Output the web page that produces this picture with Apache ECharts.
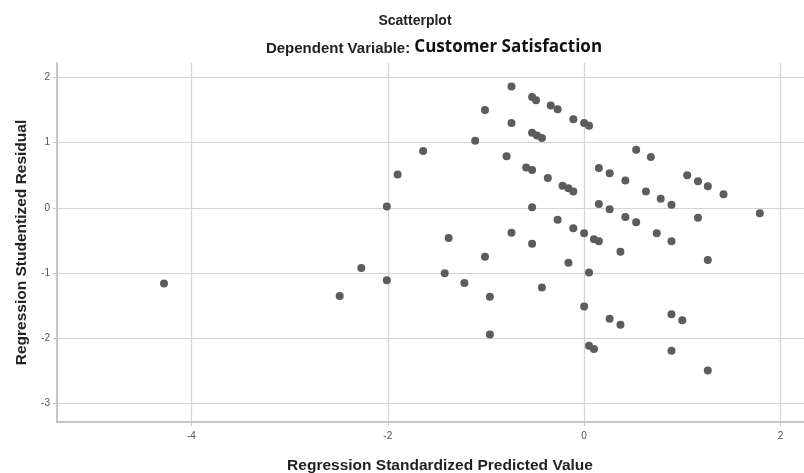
<!DOCTYPE html>
<html>
<head>
<meta charset="utf-8">
<script src="https://cdn.jsdelivr.net/npm/echarts@6/dist/echarts.min.js"></script>
<style>
html,body{margin:0;padding:0;background:#fff;}
#c{width:804px;height:473px;}
</style>
</head>
<body>
<div id="c"></div>
<script>
// Regression Standardized Predicted Value (x) and Regression Studentized Residual (y)
const predicted = [
  -4.28, -2.49, -2.27, -2.01, -2.01, -1.90, -1.64, -1.42, -1.38, -1.22,
  -1.11, -1.01, -1.01, -0.96, -0.96, -0.79, -0.74, -0.74, -0.74, -0.53,
  -0.49, -0.53, -0.48, -0.43, -0.59, -0.53, -0.53, -0.53, -0.43, -0.34,
  -0.27, -0.37, -0.22, -0.16, -0.11, -0.27, -0.11, -0.16, -0.11, 0.00,
  0.05, 0.00, 0.10, 0.15, 0.05, 0.00, 0.05, 0.10, 0.15, 0.26,
  0.42, 0.15, 0.26, 0.42, 0.53, 0.37, 0.26, 0.37, 0.53, 0.68,
  0.63, 0.78, 0.89, 0.74, 0.89, 0.89, 1.00, 0.89, 1.05, 1.16,
  1.26, 1.42, 1.16, 1.26, 1.26, 1.79
];
const residual = [
  -1.16, -1.35, -0.92, -1.11, 0.02, 0.51, 0.87, -1.00, -0.46, -1.15,
  1.03, 1.50, -0.75, -1.36, -1.94, 0.79, 1.86, 1.30, -0.38, 1.70,
  1.65, 1.15, 1.11, 1.07, 0.62, 0.58, 0.01, -0.55, -1.22, 1.57,
  1.51, 0.46, 0.34, 0.30, 0.25, -0.18, -0.31, -0.84, 1.36, 1.30,
  1.26, -0.39, -0.48, -0.51, -0.99, -1.51, -2.11, -2.16, 0.61, 0.53,
  0.42, 0.06, -0.02, -0.14, -0.22, -0.67, -1.70, -1.79, 0.89, 0.78,
  0.25, 0.14, 0.05, -0.39, -0.51, -1.63, -1.72, -2.19, 0.50, 0.41,
  0.33, 0.21, -0.15, -0.80, -2.49, -0.08
];
const xTicks = [-4, -2, 0, 2];
const yTicks = [-3, -2, -1, 0, 1, 2];
const xRange = [-5.37, 2.24];
const yRange = [-3.28, 2.22];

const points = predicted.map((v, i) => [v, residual[i]]);

const chart = echarts.init(document.getElementById('c'), null, {renderer: 'canvas'});
const axisFont = 'Arial, "Liberation Sans", sans-serif';
chart.setOption({
  backgroundColor: '#ffffff',
  animation: false,
  title: [
    {
      text: 'Scatterplot', left: 410, top: 9, textAlign: 'center',
      textStyle: {fontFamily: axisFont, fontSize: 14, fontWeight: 'bold', color: '#222'}
    },
    {
      text: '{a|Dependent Variable: }{b|Customer Satisfaction}', left: 429, top: 34, textAlign: 'center',
      textStyle: {
        rich: {
          a: {fontFamily: axisFont, fontSize: 15, fontWeight: 'bold', color: '#222', verticalAlign: 'bottom'},
          b: {fontFamily: '"Open Sans", "Noto Sans", sans-serif', fontSize: 17, color: '#111', verticalAlign: 'bottom'}
        }
      }
    },
    {
      text: 'Regression Standardized Predicted Value', left: 435, top: 453, textAlign: 'center',
      textStyle: {fontFamily: axisFont, fontSize: 15.5, fontWeight: 'bold', color: '#222'}
    }
  ],
  grid: {left: 57, right: 0, top: 63, bottom: 51, containLabel: false},
  xAxis: {
    type: 'value', min: xRange[0], max: xRange[1],
    axisLine: {show: true, onZero: false, lineStyle: {color: '#b5b5b5', width: 1.5}},
    axisTick: {show: true, length: 4, customValues: xTicks, lineStyle: {color: '#c8c8c8'}},
    axisLabel: {customValues: xTicks, fontFamily: axisFont, fontSize: 10, color: '#555', margin: 9},
    splitLine: {show: true, lineStyle: {color: '#d4d4d4', width: 1.2}}
  },
  yAxis: {
    type: 'value', min: yRange[0], max: yRange[1],
    name: 'Regression Studentized Residual', nameLocation: 'middle', nameGap: 27, nameRotate: 90,
    nameTextStyle: {fontFamily: axisFont, fontSize: 15.5, fontWeight: 'bold', color: '#222'},
    axisLine: {show: true, onZero: false, lineStyle: {color: '#b5b5b5', width: 1.5}},
    axisTick: {show: true, length: 4, customValues: yTicks, lineStyle: {color: '#c8c8c8'}},
    axisLabel: {customValues: yTicks, fontFamily: axisFont, fontSize: 10, color: '#555', margin: 7},
    splitLine: {show: true, lineStyle: {color: '#d4d4d4', width: 1.2}}
  },
  series: [{
    type: 'scatter',
    data: points,
    symbol: 'circle',
    symbolSize: 8,
    itemStyle: {color: '#5c5c5c', opacity: 1}
  }]
});
</script>
</body>
</html>
